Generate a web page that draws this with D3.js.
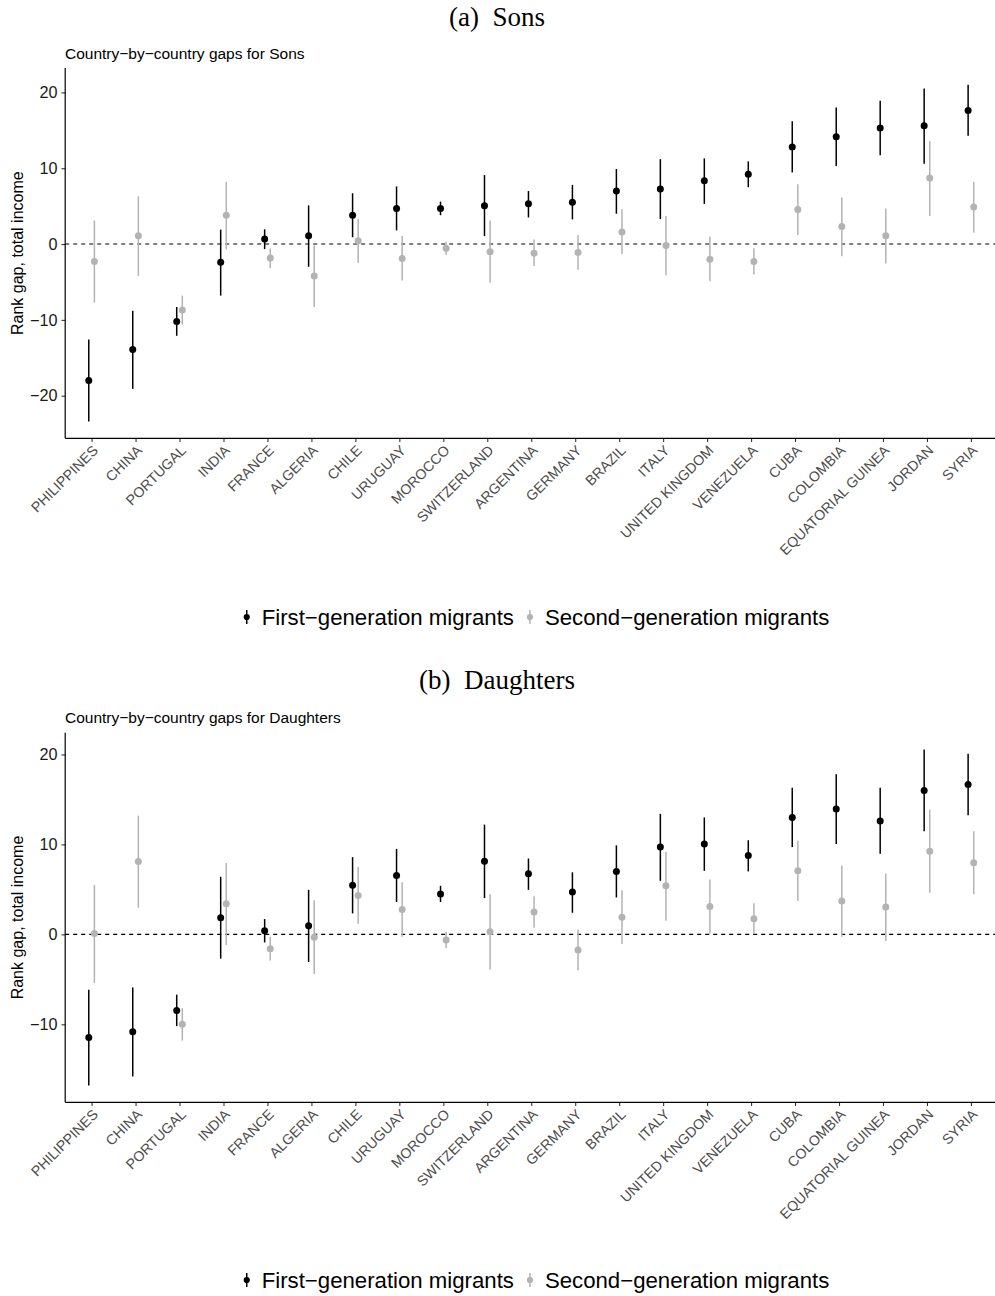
<!DOCTYPE html>
<html>
<head>
<meta charset="utf-8">
<script src="https://cdn.jsdelivr.net/npm/d3@7"></script>
<style>
  html, body { margin: 0; padding: 0; background: #fff; }
  svg { display: block; }
</style>
</head>
<body>
<svg id="chart" width="995" height="1296"></svg>
<script>
// ---------------- DATA ----------------
const countries = ["PHILIPPINES","CHINA","PORTUGAL","INDIA","FRANCE","ALGERIA","CHILE","URUGUAY","MOROCCO","SWITZERLAND","ARGENTINA","GERMANY","BRAZIL","ITALY","UNITED KINGDOM","VENEZUELA","CUBA","COLOMBIA","EQUATORIAL GUINEA","JORDAN","SYRIA"];

const seriesNames = ["First\u2212generation migrants", "Second\u2212generation migrants"];

// Sons
const sonsFirstEst  = [-18.0,-13.9,-10.2,-2.4,0.66,1.1,3.8,4.7,4.7,5.05,5.3,5.5,7.0,7.25,8.35,9.2,12.8,14.15,15.3,15.6,17.6];
const sonsFirstLow  = [-23.4,-19.1,-12.1,-6.8,-0.66,-3.0,0.9,1.8,3.8,1.05,3.5,3.25,4.0,3.3,5.3,7.5,9.45,10.3,11.7,10.6,14.3];
const sonsFirstHigh = [-12.6,-8.8,-8.3,1.9,1.95,5.1,6.7,7.6,5.6,9.1,7.0,7.8,9.9,11.2,11.3,10.9,16.2,18.0,18.9,20.5,21.0];
const sonsSecondEst  = [-2.3,1.1,-8.7,3.8,-1.85,-4.2,0.44,-1.9,-0.57,-1.0,-1.2,-1.1,1.6,-0.2,-2.0,-2.3,4.57,2.3,1.1,8.7,4.9];
const sonsSecondLow  = [-7.7,-4.2,-10.6,-0.7,-3.2,-8.3,-2.5,-4.8,-1.45,-5.1,-2.9,-3.4,-1.3,-4.1,-4.9,-4.0,1.2,-1.6,-2.55,3.7,1.5];
const sonsSecondHigh = [3.1,6.3,-6.8,8.2,-0.6,-0.2,3.3,1.05,0.3,3.1,0.6,1.2,4.6,3.7,1.0,-0.57,7.9,6.15,4.7,13.6,8.2];

// Daughters
const dauFirstEst  = [-11.46,-10.83,-8.47,1.85,0.4,0.96,5.47,6.54,4.5,8.13,6.73,4.7,7.0,9.7,10.05,8.76,13.0,13.94,12.6,16.0,16.67];
const dauFirstLow  = [-16.8,-15.8,-10.2,-2.7,-0.9,-3.07,2.33,3.6,3.6,4.03,4.95,2.4,4.1,5.95,7.06,7.0,9.7,10.05,8.95,11.46,13.23];
const dauFirstHigh = [-6.17,-5.9,-6.7,6.4,1.7,4.95,8.58,9.5,5.4,12.2,8.43,6.9,9.9,13.4,13.0,10.46,16.3,17.8,16.3,20.55,20.07];
const dauSecondEst  = [0.1,8.1,-10.0,3.4,-1.6,-0.33,4.33,2.77,-0.63,0.3,2.48,-1.74,1.9,5.4,3.1,1.74,7.06,3.7,3.03,9.24,7.95];
const dauSecondLow  = [-5.4,2.96,-11.8,-1.2,-2.9,-4.4,1.18,-0.26,-1.55,-3.9,0.74,-4.0,-1.07,1.5,0.1,0.07,3.7,-0.26,-0.74,4.62,4.47];
const dauSecondHigh = [5.5,13.2,-8.2,7.95,-0.3,3.8,7.5,5.8,0.26,4.47,4.25,0.55,4.9,9.17,6.1,3.47,10.4,7.65,6.77,13.86,11.46];

const sonsTicks = [-20, -10, 0, 10, 20];
const dauTicks  = [-10, 0, 10, 20];

// ---------------- DRAW ----------------
const svg = d3.select("#chart");
const colors = ["#000000", "#b3b3b3"];
const sansFont = "'Liberation Sans', Arial, sans-serif";
const serifFont = "'Liberation Serif', 'DejaVu Serif', serif";

function drawPanel(cfg) {
  const g = svg.append("g");
  const left = 65.2, right = 997.3;
  const top = cfg.top, bottom = cfg.bottom;

  g.append("text")
    .attr("x", 497).attr("y", cfg.titleY)
    .attr("text-anchor", "middle")
    .attr("font-family", serifFont)
    .attr("font-size", 27)
    .attr("fill", "#000")
    .attr("xml:space", "preserve")
    .text(cfg.title);

  g.append("text")
    .attr("x", 65).attr("y", cfg.subY)
    .attr("font-family", sansFont)
    .attr("font-size", 15.5)
    .attr("fill", "#000")
    .text(cfg.sub);

  const series = [
    { name: seriesNames[0], est: cfg.firstEst, low: cfg.firstLow, high: cfg.firstHigh, color: colors[0], off: -2.8 },
    { name: seriesNames[1], est: cfg.secondEst, low: cfg.secondLow, high: cfg.secondHigh, color: colors[1], off: 2.8 }
  ];

  const allLow = d3.min(series, s => d3.min(s.low));
  const allHigh = d3.max(series, s => d3.max(s.high));
  const pad = (allHigh - allLow) * 0.05;

  const x = d3.scalePoint().domain(countries).range([left, right]).padding(0.6);
  const y = d3.scaleLinear().domain([allLow - pad, allHigh + pad]).range([bottom, top]);

  g.append("line")
    .attr("x1", left).attr("x2", right)
    .attr("y1", y(0)).attr("y2", y(0))
    .attr("stroke", "#000").attr("stroke-width", 1.1)
    .attr("stroke-dasharray", "4,4");

  [series[1], series[0]].forEach(s => {
    const data = countries.map((c, i) => ({ c, est: s.est[i], low: s.low[i], high: s.high[i] }));
    const sg = g.append("g");
    sg.selectAll("line.err").data(data).enter().append("line")
      .attr("class", "err")
      .attr("x1", d => x(d.c) + s.off).attr("x2", d => x(d.c) + s.off)
      .attr("y1", d => y(d.low)).attr("y2", d => y(d.high))
      .attr("stroke", s.color).attr("stroke-width", 1.5);
    sg.selectAll("circle").data(data).enter().append("circle")
      .attr("cx", d => x(d.c) + s.off).attr("cy", d => y(d.est))
      .attr("r", 3.5).attr("fill", s.color);
  });

  const yAxis = d3.axisLeft(y).tickValues(cfg.ticks).tickSize(3.7).tickPadding(4).tickFormat(d => d < 0 ? "\u2212" + Math.abs(d) : d);
  const ya = g.append("g").attr("transform", `translate(${left},0)`).call(yAxis);
  ya.select(".domain").remove();
  ya.selectAll(".tick line").attr("stroke", "#333").attr("stroke-width", 1.1);
  ya.selectAll(".tick text").attr("font-family", sansFont).attr("font-size", 16.2).attr("fill", "#1a1a1a");
  g.append("line").attr("x1", left).attr("x2", left).attr("y1", top).attr("y2", bottom)
    .attr("stroke", "#000").attr("stroke-width", 1.2);

  const xAxis = d3.axisBottom(x).tickSize(3.7).tickFormat("");
  const xa = g.append("g").attr("transform", `translate(0,${bottom})`).call(xAxis);
  xa.select(".domain").remove();
  xa.selectAll(".tick line").attr("stroke", "#333").attr("stroke-width", 1.1);
  g.append("line").attr("x1", left).attr("x2", right).attr("y1", bottom).attr("y2", bottom)
    .attr("stroke", "#000").attr("stroke-width", 1.2);

  g.append("g").selectAll("text").data(countries).enter().append("text")
    .attr("transform", d => `translate(${x(d) + 7.3},${bottom + 13}) rotate(-45)`)
    .attr("text-anchor", "end")
    .attr("font-family", sansFont)
    .attr("font-size", 14.2)
    .attr("fill", "#4d4d4d")
    .text(d => d);

  g.append("text")
    .attr("transform", `translate(${23},${(top + bottom) / 2}) rotate(-90)`)
    .attr("text-anchor", "middle")
    .attr("font-family", sansFont)
    .attr("font-size", 16)
    .attr("fill", "#000")
    .text("Rank gap, total income");

  const lg = g.append("g");
  const ly = cfg.legendY;
  let cx = 0;
  series.forEach((s, i) => {
    const it = lg.append("g");
    it.append("line").attr("x1", 0).attr("x2", 0).attr("y1", -7).attr("y2", 7)
      .attr("stroke", s.color).attr("stroke-width", 1.5);
    it.append("circle").attr("cx", 0).attr("cy", 0).attr("r", 3.1).attr("fill", s.color);
    const t = it.append("text").attr("x", 15).attr("y", 7.5)
      .attr("font-family", sansFont).attr("font-size", 22.2).attr("fill", "#000").text(s.name);
    const w = 15 + t.node().getComputedTextLength();
    it.attr("transform", `translate(${cx},${ly})`);
    cx += w + 16;
  });
  const total = cx - 16;
  lg.attr("transform", `translate(${538 - total / 2},0)`);
}

drawPanel({
  title: "(a)  Sons", titleY: 26, sub: "Country\u2212by\u2212country gaps for Sons", subY: 59,
  top: 68, bottom: 438.3, ticks: sonsTicks,
  firstEst: sonsFirstEst, firstLow: sonsFirstLow, firstHigh: sonsFirstHigh,
  secondEst: sonsSecondEst, secondLow: sonsSecondLow, secondHigh: sonsSecondHigh,
  legendY: 617
});

drawPanel({
  title: "(b)  Daughters", titleY: 689, sub: "Country\u2212by\u2212country gaps for Daughters", subY: 723,
  top: 732.7, bottom: 1102.3, ticks: dauTicks,
  firstEst: dauFirstEst, firstLow: dauFirstLow, firstHigh: dauFirstHigh,
  secondEst: dauSecondEst, secondLow: dauSecondLow, secondHigh: dauSecondHigh,
  legendY: 1280
});
</script>
</body>
</html>
